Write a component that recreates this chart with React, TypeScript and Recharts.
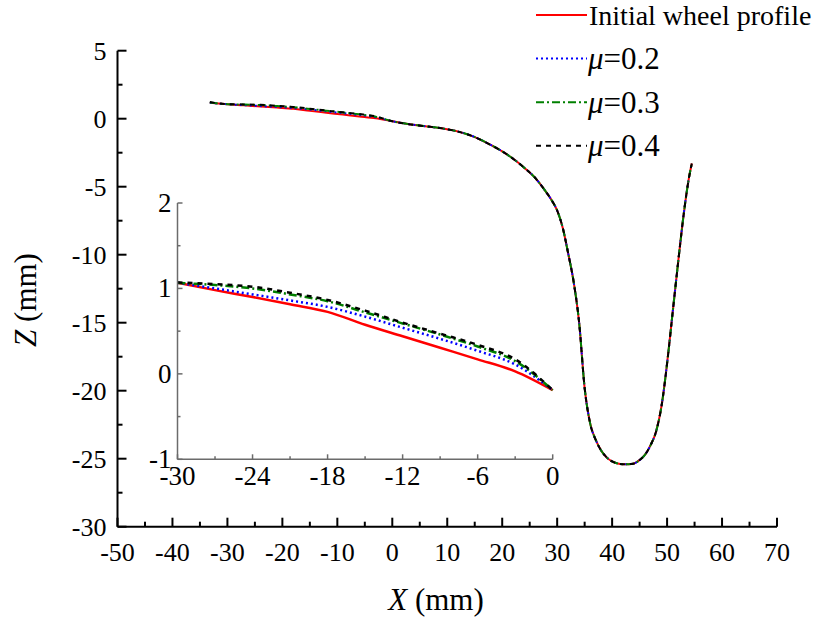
import React from 'react';
import { LineChart, Line, XAxis, YAxis, Legend } from 'recharts';

// ---------- data ----------
const profileX = [
  -33.2, -30, -27, -24, -21, -18, -15, -12, -9, -6, -3, 0,
  3, 6, 9, 12, 15, 18, 20, 22, 24, 26, 27, 28, 29, 30, 31, 32, 33, 34, 35, 36, 37, 38, 39, 40,
  41, 42, 43, 44, 45, 46, 47, 48, 49, 50, 51, 52, 53, 54, 54.5,
];

// flange / tread part where all four profiles coincide (X >= 3)
const sharedTailZ = [
  -0.4, -0.55, -0.71, -0.95, -1.35, -1.95, -2.4, -2.95, -3.6, -4.35, -4.85, -5.4, -6.0, -6.75,
  -8.0, -9.9, -12.0, -15.0, -19.8, -22.4, -23.6, -24.4, -24.9, -25.2, -25.35, -25.4, -25.4,
  -25.35, -25.1, -24.7, -24.0, -23.0, -21.1, -18.0, -14.3, -10.6, -7.1, -4.3, -3.3,
];

const initialHeadZ = [1.17, 1.066, 0.98, 0.9, 0.815, 0.726, 0.575, 0.44, 0.305, 0.17, 0.03, -0.19];
const mu02HeadZ = [1.17, 1.066, 1.0, 0.93, 0.86, 0.784, 0.67, 0.54, 0.41, 0.27, 0.11, -0.19];
const mu03HeadZ = [1.2, 1.066, 1.04, 1.0, 0.93, 0.85, 0.72, 0.59, 0.46, 0.32, 0.15, -0.19];
const mu04HeadZ = [1.22, 1.07, 1.05, 1.02, 0.95, 0.865, 0.74, 0.6, 0.47, 0.34, 0.17, -0.19];

const zInitial = [...initialHeadZ, ...sharedTailZ];
const zMu02 = [...mu02HeadZ, ...sharedTailZ];
const zMu03 = [...mu03HeadZ, ...sharedTailZ];
const zMu04 = [...mu04HeadZ, ...sharedTailZ];

const mainXTicks = [-50, -45, -40, -35, -30, -25, -20, -15, -10, -5, 0, 5, 10, 15, 20, 25, 30, 35, 40, 45, 50, 55, 60, 65, 70];
const mainXMajor = [-50, -40, -30, -20, -10, 0, 10, 20, 30, 40, 50, 60, 70];
const mainYTicks = [-30, -27.5, -25, -22.5, -20, -17.5, -15, -12.5, -10, -7.5, -5, -2.5, 0, 2.5, 5];
const mainYMajor = [-30, -25, -20, -15, -10, -5, 0, 5];
const insetXTicks = [-30, -27, -24, -21, -18, -15, -12, -9, -6, -3, 0];
const insetXMajor = [-30, -24, -18, -12, -6, 0];
const insetYTicks = [-1, -0.5, 0, 0.5, 1, 1.5, 2];
const insetYMajor = [-1, 0, 1, 2];

const rows = profileX.map((x, i) => ({
  x,
  initial: zInitial[i],
  mu02: zMu02[i],
  mu03: zMu03[i],
  mu04: zMu04[i],
}));
const insetRows = rows.filter((r) => r.x >= -30 && r.x <= 0);

// ---------- styles ----------
const FONT = '"Liberation Serif", "Times New Roman", Times, serif';

const SERIES = [
  { key: 'initial', name: 'Initial wheel profile', color: '#ff0000', dash: undefined as string | undefined },
  { key: 'mu02', name: 'μ=0.2', color: '#0000ff', dash: '2 3' },
  { key: 'mu03', name: 'μ=0.3', color: '#008000', dash: '8 3 2 3' },
  { key: 'mu04', name: 'μ=0.4', color: '#000000', dash: '5 5' },
];

const isIn = (arr: number[], v: number) => arr.some((a) => Math.abs(a - v) < 1e-6);

const makeXTick = (majors: number[], majLen: number, minLen: number, color: string, fontSize: number, dy: number, sw: number) =>
  (props: any) => {
    const { x, y, payload } = props;
    const v = payload.value;
    const major = isIn(majors, v);
    return (
      <g>
        <line x1={x} y1={y} x2={x} y2={y - (major ? majLen : minLen)} stroke={color} strokeWidth={sw} />
        {major && (
          <text x={x} y={y + dy} textAnchor="middle" fontFamily={FONT} fontSize={fontSize} fill="#000">
            {String(v)}
          </text>
        )}
      </g>
    );
  };

const makeYTick = (majors: number[], majLen: number, minLen: number, color: string, fontSize: number, gap: number, dy: number, sw: number) =>
  (props: any) => {
    const { x, y, payload } = props;
    const v = payload.value;
    const major = isIn(majors, v);
    return (
      <g>
        <line x1={x} y1={y} x2={x + (major ? majLen : minLen)} y2={y} stroke={color} strokeWidth={sw} />
        {major && (
          <text x={x - gap} y={y + dy} textAnchor="end" fontFamily={FONT} fontSize={fontSize} fill="#000">
            {String(v)}
          </text>
        )}
      </g>
    );
  };

const MainXTick = makeXTick(mainXMajor, 9, 5, '#000', 26, 34, 2);
const MainYTick = makeYTick(mainYMajor, 9, 5, '#000', 26, 11, 9, 2);
const InsetXTick = makeXTick(insetXMajor, 5, 3, '#6b6b6b', 27, 26, 1.5);
const InsetYTick = makeYTick(insetYMajor, 5, 3, '#6b6b6b', 27, 6, 9, 1.5);

const renderXTitle = () => (
  <text x={436} y={610} textAnchor="middle" fontFamily={FONT} fontSize={31} fill="#000">
    <tspan fontStyle="italic">X</tspan>
    <tspan> (mm)</tspan>
  </text>
);

const renderYTitle = () => (
  <text x={36} y={300} textAnchor="middle" fontFamily={FONT} fontSize={31} fill="#000" transform="rotate(-90 36 300)">
    <tspan fontStyle="italic">Z</tspan>
    <tspan> (mm)</tspan>
  </text>
);

const renderLegend = () => (
  <svg width={820} height={170} style={{ display: 'block', fontFamily: FONT }}>
    {SERIES.map((s, i) => {
      const ly = 15 + i * 43.6;
      const ty = 25 + i * 43.4;
      const isMu = s.name.startsWith('μ');
      return (
        <g key={s.key}>
          <line x1={536} y1={ly} x2={587} y2={ly} stroke={s.color} strokeWidth={2} strokeDasharray={s.dash} />
          {isMu ? (
            <text x={588} y={ty + 1} fontFamily={FONT} fontSize={31} fill="#000">
              <tspan fontStyle="italic">μ</tspan>
              <tspan>{s.name.slice(1)}</tspan>
            </text>
          ) : (
            <text x={589} y={ty} fontFamily={FONT} fontSize={28} fill="#000">
              {s.name}
            </text>
          )}
        </g>
      );
    })}
  </svg>
);

export default function App() {
  return (
    <div style={{ position: 'absolute', left: 0, top: 0, width: 820, height: 621, background: '#fff', overflow: 'hidden', fontFamily: FONT }}>
      <div style={{ position: 'absolute', left: 0, top: 0 }}>
        <LineChart width={820} height={621} data={rows} margin={{ top: 50.7, right: 43, bottom: 93.3, left: 116.5 }}>
          <XAxis
            type="number"
            dataKey="x"
            domain={[-50, 70]}
            ticks={mainXTicks}
            interval={0}
            height={1}
            tickSize={0}
            tickMargin={0}
            tickLine={false}
            axisLine={{ stroke: '#000', strokeWidth: 2 }}
            tick={MainXTick}
            label={renderXTitle}
          />
          <YAxis
            type="number"
            domain={[-30, 5]}
            ticks={mainYTicks}
            interval={0}
            width={1}
            tickSize={0}
            tickMargin={0}
            tickLine={false}
            axisLine={{ stroke: '#000', strokeWidth: 2 }}
            tick={MainYTick}
            label={renderYTitle}
          />
          <Legend
            layout="vertical"
            align="center"
            verticalAlign="middle"
            wrapperStyle={{ left: 0, top: 0, width: 820, height: 170 }}
            content={renderLegend}
          />
          {SERIES.map((s) => (
            <Line
              key={s.key}
              type="monotone"
              dataKey={s.key}
              name={s.name}
              stroke={s.color}
              strokeWidth={2}
              strokeDasharray={s.dash}
              dot={false}
              activeDot={false}
              isAnimationActive={false}
            />
          ))}
        </LineChart>
      </div>
      <div style={{ position: 'absolute', left: 0, top: 0 }}>
        <LineChart width={820} height={621} data={insetRows} margin={{ top: 203, right: 267.3, bottom: 160.7, left: 176.5 }}>
          <XAxis
            type="number"
            dataKey="x"
            domain={[-30, 0]}
            ticks={insetXTicks}
            interval={0}
            height={1}
            tickSize={0}
            tickMargin={0}
            tickLine={false}
            axisLine={{ stroke: '#6b6b6b', strokeWidth: 1.5 }}
            tick={InsetXTick}
          />
          <YAxis
            type="number"
            domain={[-1, 2]}
            ticks={insetYTicks}
            interval={0}
            width={1}
            tickSize={0}
            tickMargin={0}
            tickLine={false}
            axisLine={{ stroke: '#6b6b6b', strokeWidth: 1.5 }}
            tick={InsetYTick}
          />
          {SERIES.map((s) => (
            <Line
              key={s.key}
              type="monotone"
              dataKey={s.key}
              name={s.name}
              stroke={s.color}
              strokeWidth={2.5}
              strokeDasharray={s.dash}
              dot={false}
              activeDot={false}
              isAnimationActive={false}
            />
          ))}
        </LineChart>
      </div>
    </div>
  );
}
